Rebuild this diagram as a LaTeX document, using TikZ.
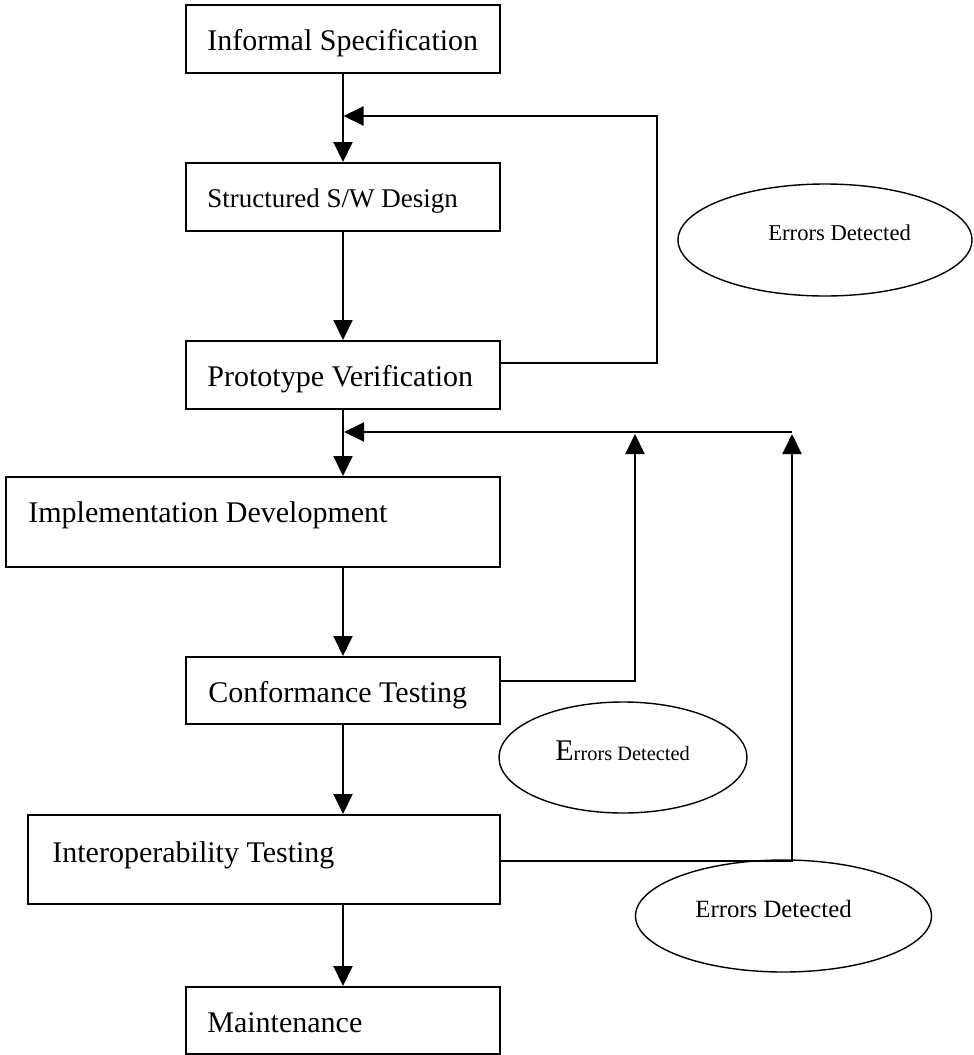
\documentclass[tikz,border=0pt]{standalone}
\usepackage{fontspec}
\setmainfont{Liberation Serif}
\usetikzlibrary{arrows.meta,shapes.geometric}
\begin{document}
\begin{tikzpicture}[x=0.5pt,y=-0.5pt,
 box/.style={draw, line width=1pt, inner sep=0pt, anchor=north west, rectangle},
 oval/.style={draw, ellipse, line width=0.7pt, inner sep=0pt},
 lbl/.style={anchor=base west, inner sep=0pt, font=\fontsize{15pt}{18pt}\selectfont},
 conn/.style={line width=1pt},
 arr/.style={conn, -{Triangle[length=10pt,width=9.5pt]}}]
\useasboundingbox (0,0) rectangle (974,1055);

% boxes
\node[box, minimum width=157pt, minimum height=34pt] (b1) at (185,4) {};
\node[box, minimum width=157pt, minimum height=34pt] (b2) at (185,162) {};
\node[box, minimum width=157pt, minimum height=34pt] (b3) at (185,340) {};
\node[box, minimum width=247pt, minimum height=45pt] (b4) at (5,476) {};
\node[box, minimum width=157pt, minimum height=33.5pt] (b5) at (185,656) {};
\node[box, minimum width=236pt, minimum height=44.5pt] (b6) at (27,814) {};
\node[box, minimum width=157pt, minimum height=33.5pt] (b7) at (185,986) {};

% box labels
\node[lbl] (t1) at ([shift={(22,46)}]b1.north west) {Informal Specification};
\node[lbl, font=\fontsize{13.5pt}{16pt}\selectfont] (t2) at ([shift={(22,45)}]b2.north west) {Structured S/W Design};
\node[lbl] (t3) at ([shift={(22,46)}]b3.north west) {Prototype Verification};
\node[lbl] (t4) at ([shift={(23,46)}]b4.north west) {Implementation Development};
\node[lbl] (t5) at ([shift={(23,46)}]b5.north west) {Conformance Testing};
\node[lbl] (t6) at ([shift={(25,48)}]b6.north west) {Interoperability Testing};
\node[lbl] (t7) at ([shift={(22,46)}]b7.north west) {Maintenance};

% ellipses
\node[oval, minimum width=147pt, minimum height=56pt] (e1) at (825,240) {};
\node[oval, minimum width=124pt, minimum height=55.5pt] (e2) at (623,757.5) {};
\node[oval, minimum width=148pt, minimum height=56pt] (e3) at (783.5,916) {};
\node[lbl, font=\fontsize{11.3pt}{13pt}\selectfont] (et1) at (768,240) {Errors Detected};
\node[lbl, font=\fontsize{10.2pt}{12pt}\selectfont] (et2) at (555,760) {{\fontsize{15pt}{18pt}\selectfont E}rrors Detected};
\node[lbl, font=\fontsize{12.4pt}{14pt}\selectfont] (et3) at (695,917) {Errors Detected};

% main flow
\draw[arr] (b1.south) -- (b2.north);
\draw[arr] (b2.south) -- (b3.north);
\draw[arr] (b3.south) -- (b3.south |- b4.north);
\draw[arr] (b3.south |- b4.south) -- (b5.north);
\draw[arr] (b5.south) -- (b5.south |- b6.north);
\draw[arr] (b5.south |- b6.south) -- (b7.north);

% feedback loops
\coordinate (k1) at (657,116);
\coordinate (j1) at (343.5,116);
\draw[arr] ([yshift=6pt]b3.east) -| (k1) -- (j1);

\coordinate (fb2) at (792,432);
\coordinate (j2) at (344,432);
\draw[arr] (fb2) -- (j2);

\coordinate (u5) at (635,434);
\coordinate (u6) at (792,434);
\draw[arr] ([yshift=4.75pt]b5.east) -| (u5);
\draw[arr] ([yshift=-0.75pt]b6.east) -| (u6);
\end{tikzpicture}
\end{document}
